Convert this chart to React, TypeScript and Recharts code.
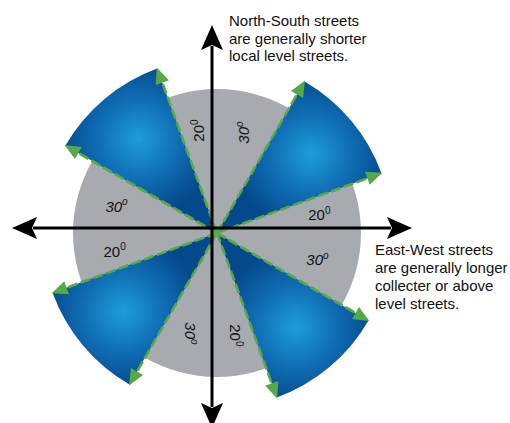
import React from 'react';
import { PieChart, Pie, Cell } from 'recharts';

// compass sectors, clockwise from north
const sectorNames = [
  'N-NE gap', 'NE wedge', 'ENE gap', 'ESE gap', 'SE wedge', 'SSE gap',
  'SSW gap', 'SW wedge', 'WSW gap', 'WNW gap', 'NW wedge', 'NNW gap',
];
const sectorDegrees = [30, 40, 20, 30, 40, 20, 30, 40, 20, 30, 40, 20];
const sectorKinds = [
  'gap', 'wedge', 'gap', 'gap', 'wedge', 'gap',
  'gap', 'wedge', 'gap', 'gap', 'wedge', 'gap',
];
const discData = [{ name: 'disc', value: 360 }];

const northSouthNote = ['North-South streets', 'are generally shorter', 'local level streets.'];
const eastWestNote = ['East-West streets', 'are generally longer', 'collecter or above', 'level streets.'];

const sectorData = sectorDegrees.map((value, i) => ({
  name: sectorNames[i],
  value,
  kind: sectorKinds[i],
}));

const CX = 212;
const CY = 228;
const DISC_R = 144;
const WEDGE_R = 175;
const LABEL_R = 104;
const RAD = Math.PI / 180;
const GREEN = '#57a947';
const FONT = '"Liberation Sans", Arial, sans-serif';

const pt = (cx: number, cy: number, a: number, r: number) => ({
  x: cx + r * Math.cos(a * RAD),
  y: cy - r * Math.sin(a * RAD),
});

const edgeArrow = (cx: number, cy: number, a: number, key: string) => {
  const tip = pt(cx, cy, a, WEDGE_R + 1);
  const base = pt(cx, cy, a, WEDGE_R - 15);
  const nx = Math.sin(a * RAD) * 7;
  const ny = Math.cos(a * RAD) * 7;
  const lineEnd = pt(cx, cy, a, WEDGE_R - 10);
  return (
    <g key={key}>
      <line x1={cx} y1={cy} x2={lineEnd.x} y2={lineEnd.y} stroke={GREEN} strokeWidth={2.6} strokeDasharray="10 3.5" />
      <polygon
        points={`${tip.x},${tip.y} ${base.x + nx},${base.y + ny} ${base.x - nx},${base.y - ny}`}
        fill={GREEN}
      />
    </g>
  );
};

const renderSectorLabel = (props: any) => {
  const { cx, cy, midAngle, startAngle, endAngle, index, value } = props;
  if (sectorKinds[index] === 'wedge') {
    const c = pt(cx, cy, midAngle, WEDGE_R * 0.7);
    return (
      <g>
        <defs>
          <radialGradient id={`wedgeGlow-${index}`} gradientUnits="userSpaceOnUse" cx={c.x} cy={c.y} r={WEDGE_R * 0.44}>
            <stop offset="0%" stopColor="#1e9ed8" />
            <stop offset="50%" stopColor="#106fb6" />
            <stop offset="100%" stopColor="#04498c" />
          </radialGradient>
        </defs>
        {edgeArrow(cx, cy, startAngle, 's')}
        {edgeArrow(cx, cy, endAngle, 'e')}
      </g>
    );
  }
  const p = pt(cx, cy, midAngle, LABEL_R);
  const bearing = (((90 - midAngle) % 360) + 360) % 360;
  const rot = bearing < 45 || bearing > 315 ? -90 : bearing > 135 && bearing < 225 ? 90 : 0;
  const italic = value === 30;
  return (
    <text
      x={p.x}
      y={p.y}
      textAnchor="middle"
      dominantBaseline="central"
      transform={`rotate(${rot}, ${p.x}, ${p.y})`}
      fontFamily={FONT}
      fontSize={15}
      fontStyle={italic ? 'italic' : 'normal'}
      fill="#111"
    >
      {value}
      <tspan fontSize={10} dy={-5}>{italic ? 'o' : '0'}</tspan>
    </text>
  );
};

const axisArrow = (a: number, len: number) => {
  const tip = pt(CX, CY, a, len);
  const back = pt(CX, CY, a, len - 25);
  const notch = pt(CX, CY, a, len - 20);
  const lineEnd = pt(CX, CY, a, len - 21);
  const nx = Math.sin(a * RAD) * 11;
  const ny = Math.cos(a * RAD) * 11;
  return (
    <g key={a}>
      <line x1={CX} y1={CY} x2={lineEnd.x} y2={lineEnd.y} stroke="#000" strokeWidth={3} />
      <polygon
        points={`${tip.x},${tip.y} ${back.x + nx},${back.y + ny} ${notch.x},${notch.y} ${back.x - nx},${back.y - ny}`}
        fill="#000"
      />
    </g>
  );
};

const renderOverlay = () => (
  <g>
    {axisArrow(0, 200)}
    {axisArrow(90, 203)}
    {axisArrow(180, 200)}
    {axisArrow(270, 200)}
    <text fontFamily={FONT} fontSize={15} fill="#111">
      {northSouthNote.map((line, i) => (
        <tspan key={i} x={229} y={26 + i * 17.6}>{line}</tspan>
      ))}
    </text>
    <text fontFamily={FONT} fontSize={15} fill="#111">
      {eastWestNote.map((line, i) => (
        <tspan key={i} x={375} y={255 + i * 18}>{line}</tspan>
      ))}
    </text>
  </g>
);

export default function App() {
  return (
    <div style={{ position: 'absolute', left: 0, top: 0, background: '#fff' }}>
      <PieChart width={510} height={423}>
        <Pie
          data={discData}
          dataKey="value"
          cx={CX}
          cy={CY}
          outerRadius={DISC_R}
          startAngle={90}
          endAngle={-270}
          fill="#a7abb0"
          stroke="none"
          isAnimationActive={false}
        />
        <Pie
          data={sectorData}
          dataKey="value"
          cx={CX}
          cy={CY}
          outerRadius={WEDGE_R}
          startAngle={90}
          endAngle={-270}
          stroke="none"
          label={renderSectorLabel}
          labelLine={false}
          isAnimationActive={false}
        >
          {sectorData.map((d, i) => (
            <Cell key={d.name} fill={d.kind === 'wedge' ? `url(#wedgeGlow-${i})` : 'transparent'} />
          ))}
        </Pie>
        <Pie
          data={discData}
          dataKey="value"
          cx={CX}
          cy={CY}
          outerRadius={1}
          fill="transparent"
          stroke="none"
          label={renderOverlay}
          labelLine={false}
          isAnimationActive={false}
        />
      </PieChart>
    </div>
  );
}
